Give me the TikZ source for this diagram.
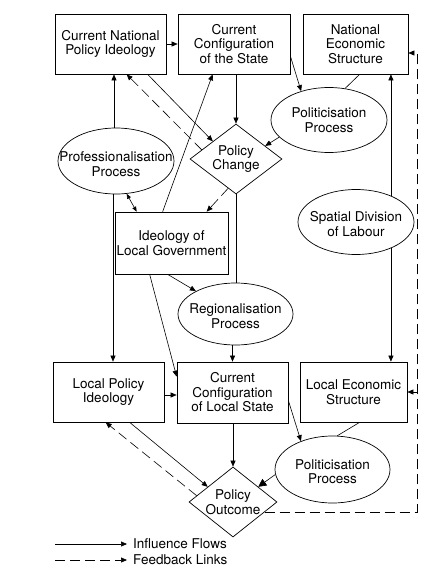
\documentclass[tikz,border=0pt]{standalone}
\usepackage{fontspec}
\setmainfont{TeX Gyre Heros}
\usetikzlibrary{arrows.meta,shapes.geometric,calc}
\begin{document}
\begin{tikzpicture}[x=1pt,y=-1pt,
  every node/.style={font=\fontsize{13.5}{14.5}\selectfont, align=center},
  box/.style={draw, rectangle, inner sep=0pt, line width=0.7pt},
  oval/.style={draw, ellipse, inner sep=0pt, line width=0.7pt},
  dia/.style={draw, diamond, inner sep=0pt, line width=0.7pt},
  plain/.style={line width=0.6pt},
  flow/.style={line width=0.6pt, -{Triangle[length=6pt,width=5pt]}},
  flowbig/.style={line width=0.6pt, -{Triangle[length=8pt,width=8pt]}},
  fb/.style={flow, dash pattern=on 10pt off 5pt},
  both/.style={line width=0.6pt, {Triangle[length=5pt,width=4pt]}-{Triangle[length=5pt,width=4pt]}}
]
\useasboundingbox (0,0) rectangle (424,573);

% nodes
\node[box, minimum width=111pt, minimum height=60pt] (cnpi) at (110.5,44) {Current National\\Policy Ideology};
\node[box, minimum width=112pt, minimum height=60pt] (ccs) at (234,44) {Current\\Configuration\\of the State};
\node[box, minimum width=105pt, minimum height=60pt] (nes) at (355.5,44) {National\\Economic\\Structure};
\node[oval, minimum width=116pt, minimum height=65pt, label={center:{Politicisation\\Process}}] (pol1) at (329,120) {};
\node[dia, minimum width=92pt, minimum height=70pt, label={center:{Policy\\Change}}] (pc) at (236,159) {};
\node[oval, minimum width=116pt, minimum height=66pt, label={[yshift=-3pt]center:{Professionalisation\\Process}}] (prof) at (116,161) {};
\node[box, minimum width=113pt, minimum height=62pt] (ilg) at (171.5,243) {Ideology of\\Local Government};
\node[oval, minimum width=116pt, minimum height=65pt, label={[yshift=-2pt]center:{Spatial Division\\of Labour}}] (sdl) at (356,222) {};
\node[oval, minimum width=115pt, minimum height=62pt, label={[yshift=-2pt]center:{Regionalisation\\Process}}] (reg) at (235.5,314) {};
\node[box, minimum width=111pt, minimum height=60pt] (lpi) at (108.5,392) {Local Policy\\Ideology};
\node[box, minimum width=111pt, minimum height=61pt] (ccls) at (232.5,392.5) {Current\\Configuration\\of Local State};
\node[box, minimum width=107pt, minimum height=60pt] (les) at (353.5,392) {Local Economic\\Structure};
\node[oval, minimum width=115pt, minimum height=67pt, label={[yshift=-2pt]center:{Politicisation\\Process}}] (pol2) at (332.5,469.5) {};
\node[dia, minimum width=88pt, minimum height=70pt, label={center:{Policy\\Outcome}}] (po) at (233,502) {};

% connectors
\draw[flow] (cnpi) -- (ccs);
\draw[flow] ([xshift=-2pt]prof.north) -- ([xshift=-2pt]prof.north |- cnpi.south);
\draw[both] (prof.-72) -- ([xshift=22pt]ilg.north west);
\draw[flow] ([xshift=93pt]cnpi.south west) -- ($(pc.north)!0.5!(pc.west)$);
\draw[fb] ($(pc.north)!0.74!(pc.west)$) -- ([xshift=72pt]cnpi.south west);
\draw[flow] (pc.north |- ccs.south) -- (pc.north);
\draw[flow] ([xshift=48pt]ilg.north west) -- ([xshift=35pt]ccs.south west);
\draw[fb] ($(pc.south)!0.17!(pc.west)$) -- ([xshift=92pt]ilg.north west);
\draw[flow] ([yshift=-12pt]ccs.east) -- (pol1.134);
\draw[plain] (pol1.63) -- ([xshift=57pt]nes.south west);
\draw[flow] (pol1.199) -- ($(pc.north)!0.63!(pc.east)$);
\draw[flow] (sdl.37) -- (sdl.37 |- nes.south);
\draw[flow] (sdl.-37) -- (sdl.-37 |- les.north);
\draw[plain] (pc.south) -- (pc.south |- reg.north);
\draw[flow] ([xshift=53pt]ilg.south west) -- (reg.150);
\draw[flow] ([xshift=35pt]ilg.south west) -- ([yshift=-15pt]ccls.north west);
\draw[flow] ([xshift=-3pt]prof.south) -- ([xshift=-3pt]prof.south |- lpi.north);
\draw[flow] ([xshift=-3pt]reg.south) -- ([xshift=-3pt]reg.south |- ccls.north);
\draw[flow] ([yshift=-3pt]lpi.east) -- ([yshift=-3pt]lpi.east -| ccls.west);
\draw[flow] (po.north |- ccls.south) -- (po.north);
\draw[flow] ([yshift=-8pt]ccls.east) -- (pol2.138);
\draw[plain] ([xshift=60pt]les.south west) -- (pol2.82);
\draw[flowbig] (pol2.185) -- ($(po.north)!0.57!(po.east)$);
\draw[flow] ([xshift=77pt]lpi.south west) -- ($(po.north)!0.57!(po.west)$);
\draw[fb] ($(po.north)!0.82!(po.west)$) -- ([xshift=53pt]lpi.south west);

% feedback rail
\coordinate (rail) at (417,0);
\coordinate (poout) at ($(po.east)!0.286!(po.south)$);
\coordinate (nesin) at ([yshift=-9pt]nes.east);
\draw[fb] (poout) -- (poout -| rail) -- (rail |- nesin) -- (nesin);
\draw[fb] (rail |- les.east) -- (les.east);

% legend
\coordinate (lg1) at (55,544);
\coordinate (lg2) at (55,560);
\node[anchor=west, inner sep=0pt] (lgt1) at (133,544) {Influence Flows};
\node[anchor=west, inner sep=0pt] (lgt2) at (133,560) {Feedback Links};
\draw[flow] (lg1) -- ([xshift=-6pt]lgt1.west);
\draw[fb] (lg2) -- ([xshift=-6pt]lgt2.west);
\end{tikzpicture}
\end{document}
